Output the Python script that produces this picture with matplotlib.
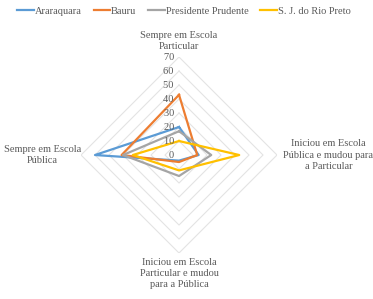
import numpy as np
import matplotlib
matplotlib.use("Agg")
import matplotlib.pyplot as plt

categories = ["Sempre em Escola\nParticular",
              "Iniciou em Escola\nPública e mudou para\na Particular",
              "Iniciou em Escola\nParticular e mudou\npara a Pública",
              "Sempre em Escola\nPública"]
series_names = ["Araraquara", "Bauru", "Presidente Prudente", "S. J. do Rio Preto"]
araraquara = [20, 14, 4, 60]
bauru = [43, 13, 5, 41]
pres_prudente = [17, 23, 15, 40]
sjrp = [10, 43, 11, 33]
ticks = [0, 10, 20, 30, 40, 50, 60, 70]

colors = ["#5B9BD5", "#ED7D31", "#A5A5A5", "#FFC000"]
font = "Liberation Serif"
tcol = "#595959"

fig = plt.figure(figsize=(3.73, 2.99), dpi=100)
ax = fig.add_axes([0.2172, 0.1538, 0.5255, 0.6555], projection="polar")
ax.set_theta_offset(np.pi / 2)
ax.set_theta_direction(-1)
ax.set_ylim(0, 70)
ax.grid(False)
ax.spines["polar"].set_visible(False)
ax.set_xticks([])
ax.set_yticks([])
ax.patch.set_alpha(0)

n = len(categories)
ang = np.arange(n) * 2 * np.pi / n
angc = np.append(ang, ang[0])

for t in ticks[1:]:
    ax.plot(angc, [t] * (n + 1), color="#e3e3e3", lw=0.8, zorder=1)

all_series = [araraquara, bauru, pres_prudente, sjrp]
for name, vals, c in zip(series_names, all_series, colors):
    ax.plot(angc, vals + [vals[0]], color=c, lw=1.6, label=name, zorder=3)

for t in ticks:
    ax.text(0, t, f"{t}  ", ha="right", va="center", fontsize=7.5,
            family=font, color=tcol, zorder=4)

# category labels
kw = dict(textcoords="offset points", fontsize=7.5, family=font, color=tcol,
          linespacing=1.3, annotation_clip=False)
ax.annotate(categories[0], xy=(0, 70), xytext=(0, 4), ha="center", va="bottom", **kw)
ax.annotate(categories[1], xy=(ang[1], 70), xytext=(37, 0), ha="center", va="center", **kw)
ax.annotate(categories[2], xy=(ang[2], 70), xytext=(0, -3.5), ha="center", va="top", **kw)
ax.annotate(categories[3], xy=(ang[3], 70), xytext=(-28, 0), ha="center", va="center", **kw)

leg = fig.legend(loc="upper center", bbox_to_anchor=(0.493, 1.01), ncol=4, frameon=False,
                 prop={"family": font, "size": 7.5}, handlelength=1.6,
                 handletextpad=0.1, columnspacing=1.1, labelcolor=tcol)

fig.savefig("out.png", dpi=100)
